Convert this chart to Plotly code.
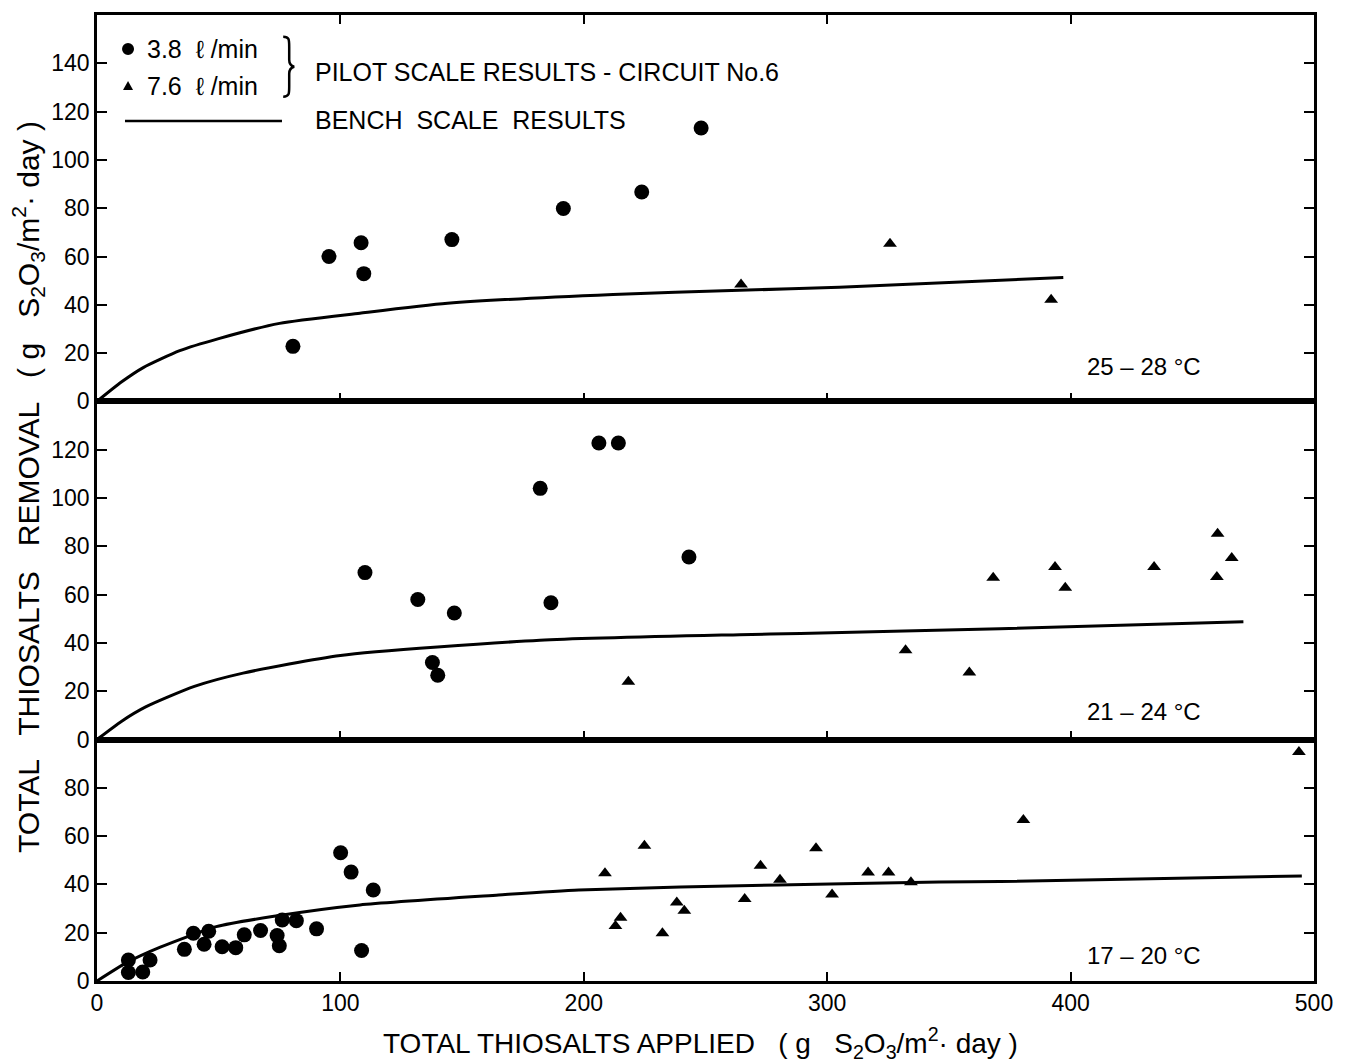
import plotly.graph_objects as go

# ---------------- data ----------------
# 25-28 °C panel
top_c_x = [80.5, 95.3, 108.5, 109.6, 145.8, 191.6, 223.8, 248.2]
top_c_y = [22.8, 60.0, 65.7, 52.9, 67.0, 79.9, 86.7, 113.2]
top_t_x = [264.6, 325.8, 392.0]
top_t_y = [48.4, 65.3, 42.1]
top_curve_x = [0, 10, 19, 34, 50, 75, 108, 144, 212, 264, 305, 397]
top_curve_y = [0, 8, 14, 21, 26, 32.3, 36.5, 40.6, 44.3, 46.0, 47.3, 51.3]

# 21-24 °C panel
mid_c_x = [110.1, 131.8, 146.8, 137.8, 140.0, 182.1, 206.2, 214.2, 186.5, 243.2]
mid_c_y = [69.1, 58.0, 52.4, 31.9, 26.6, 104.0, 122.8, 122.8, 56.6, 75.6]
mid_t_x = [218.3, 332.2, 358.4, 368.2, 393.6, 397.8, 434.3, 460.4, 460.1, 466.2]
mid_t_y = [23.9, 37.0, 27.7, 67.0, 71.4, 62.8, 71.4, 85.2, 67.3, 75.2]
mid_curve_x = [0, 10, 20, 40, 60, 100, 182, 264, 289, 371, 471]
mid_curve_y = [0, 7.5, 13.5, 22, 27.5, 34.8, 41.1, 43.4, 43.9, 45.9, 48.8]

# 17-20 °C panel
bot_c_x = [12.9, 12.9, 18.8, 21.8, 35.9, 39.6, 44.0, 45.9, 51.4, 57.0, 60.5, 67.2,
           74.0, 74.9, 76.1, 81.9, 90.2, 100.1, 104.4, 113.5, 108.7]
bot_c_y = [8.7, 3.5, 3.7, 8.7, 13.1, 19.8, 15.2, 20.6, 14.2, 13.8, 19.1, 20.9,
           18.8, 14.6, 25.3, 25.0, 21.6, 53.1, 45.1, 37.7, 12.6]
bot_t_x = [208.7, 224.9, 215.1, 213.0, 232.3, 238.2, 241.3, 266.1, 272.6, 280.6,
           295.4, 302.0, 316.8, 325.2, 334.4, 380.6, 493.8]
bot_t_y = [44.6, 56.0, 26.2, 22.8, 19.8, 32.5, 29.1, 34.0, 47.7, 41.9,
           55.0, 35.8, 44.9, 44.9, 40.9, 66.7, 94.8]
bot_curve_x = [0, 12, 26, 49, 72, 108, 165, 198, 280, 346, 371, 495]
bot_curve_y = [0, 7.5, 14, 22.5, 26.7, 31.5, 35.6, 37.7, 39.8, 41.0, 41.2, 43.5]

x_ticks = [0, 100, 200, 300, 400, 500]
top_yticks = [0, 20, 40, 60, 80, 100, 120, 140]
mid_yticks = [0, 20, 40, 60, 80, 100, 120]
bot_yticks = [0, 20, 40, 60, 80]

temp_labels = ["25 – 28 °C", "21 – 24 °C", "17 – 20 °C"]

# ---------------- figure ----------------
FONT = "Liberation Sans, Arial, sans-serif"
BLACK = "black"

fig = go.Figure()

panels = [
    ("x3", "y3", top_c_x, top_c_y, top_t_x, top_t_y, top_curve_x, top_curve_y),
    ("x2", "y2", mid_c_x, mid_c_y, mid_t_x, mid_t_y, mid_curve_x, mid_curve_y),
    ("x", "y", bot_c_x, bot_c_y, bot_t_x, bot_t_y, bot_curve_x, bot_curve_y),
]
for xa, ya, cx, cy, tx, ty, lx, ly in panels:
    fig.add_trace(go.Scatter(x=lx, y=ly, mode="lines", xaxis=xa, yaxis=ya,
                             line=dict(color=BLACK, width=3, shape="spline", smoothing=0.6),
                             showlegend=False, hoverinfo="skip"))
    fig.add_trace(go.Scatter(x=cx, y=cy, mode="markers", xaxis=xa, yaxis=ya,
                             marker=dict(symbol="circle", size=15, color=BLACK),
                             showlegend=False))
    fig.add_trace(go.Scatter(x=tx, y=ty, mode="markers", xaxis=xa, yaxis=ya,
                             marker=dict(symbol="triangle-up", size=12, color=BLACK),
                             showlegend=False))

tickfont = dict(family=FONT, size=23, color=BLACK)
common_x = dict(range=[0, 500], tickvals=x_ticks, ticks="inside", ticklen=9, tickwidth=2,
                tickcolor=BLACK, showline=True, linecolor=BLACK, linewidth=2.5,
                showgrid=False, zeroline=False, tickfont=tickfont)
common_y = dict(ticks="inside", ticklen=10, tickwidth=2, tickcolor=BLACK, showline=True,
                linecolor=BLACK, linewidth=2.5, showgrid=False, zeroline=False,
                mirror="ticks", tickfont=tickfont, ticklabelstandoff=0)

fig.update_layout(
    xaxis=dict(domain=[0, 1], anchor="y", mirror=True, showticklabels=True, **common_x),
    xaxis2=dict(domain=[0, 1], anchor="y2", mirror=True, showticklabels=False, matches="x", **common_x),
    xaxis3=dict(domain=[0, 1], anchor="y3", mirror="ticks", showticklabels=False, matches="x", **common_x),
    yaxis=dict(domain=[0, 0.25], anchor="x", range=[0, 100], tickvals=bot_yticks, **common_y),
    yaxis2=dict(domain=[0.25, 0.6], anchor="x2", range=[0, 140], tickvals=mid_yticks, **common_y),
    yaxis3=dict(domain=[0.6, 1.0], anchor="x3", range=[0, 160], tickvals=top_yticks, **common_y),
    width=1345, height=1063,
    margin=dict(l=97, r=31, t=15, b=82),
    paper_bgcolor="white", plot_bgcolor="white",
    font=dict(family=FONT, color=BLACK),
    showlegend=False,
)

ann = []
# temperature labels
for txt, yp in zip(temp_labels, [0.6366, 0.2785, 0.0269]):
    ann.append(dict(text=txt, xref="paper", yref="paper", x=0.8118, y=yp,
                    xanchor="left", yanchor="middle", showarrow=False,
                    font=dict(family=FONT, size=24, color=BLACK)))
# legend texts
leg_font = dict(family=FONT, size=25, color=BLACK)
ann.append(dict(text="3.8  ℓ /min", xref="paper", yref="paper", x=0.0394, y=0.9648,
                xanchor="left", yanchor="middle", showarrow=False, font=leg_font))
ann.append(dict(text="7.6  ℓ /min", xref="paper", yref="paper", x=0.0394, y=0.9265,
                xanchor="left", yanchor="middle", showarrow=False, font=leg_font))
ann.append(dict(text="PILOT SCALE RESULTS - CIRCUIT No.6", xref="paper", yref="paper",
                x=0.1775, y=0.941, xanchor="left", yanchor="middle", showarrow=False, font=leg_font))
ann.append(dict(text="BENCH  SCALE  RESULTS", xref="paper", yref="paper",
                x=0.1775, y=0.8913, xanchor="left", yanchor="middle", showarrow=False, font=leg_font))
# axis titles
ann.append(dict(text="TOTAL THIOSALTS APPLIED   ( g   S<sub>2</sub>O<sub>3</sub>/m<sup>2</sup>· day )",
                xref="paper", yref="paper", x=0.4955, y=-0.0642, xanchor="center", yanchor="middle",
                showarrow=False, font=dict(family=FONT, size=28, color=BLACK)))
ann.append(dict(text="TOTAL   THIOSALTS   REMOVAL   ( g   S<sub>2</sub>O<sub>3</sub>/m<sup>2</sup>· day )",
                xref="paper", yref="paper", x=-0.0567, y=0.5114, xanchor="center", yanchor="middle",
                textangle=-90, showarrow=False, font=dict(family=FONT, size=30, color=BLACK)))
fig.update_layout(annotations=ann)

shapes = []
# legend key: circle
shapes.append(dict(type="circle", xref="paper", yref="paper", xsizemode="pixel", ysizemode="pixel",
                   xanchor=0.0255, yanchor=0.9648, x0=-6, x1=6, y0=-6, y1=6,
                   fillcolor=BLACK, line=dict(color=BLACK, width=0)))
# legend key: triangle
shapes.append(dict(type="path", xref="paper", yref="paper", xsizemode="pixel", ysizemode="pixel",
                   xanchor=0.0255, yanchor=0.9265, path="M -5,-4 L 5,-4 L 0,5 Z",
                   fillcolor=BLACK, line=dict(color=BLACK, width=0)))
# brace
shapes.append(dict(type="path", xref="paper", yref="paper", xsizemode="pixel", ysizemode="pixel",
                   xanchor=0.1530, yanchor=0.9465,
                   path="M 0,30 C 6,30 6,27 6,20 L 6,7 C 6,3 7,1 11,0 C 7,-1 6,-3 6,-7 L 6,-20 C 6,-27 6,-30 0,-30",
                   line=dict(color=BLACK, width=2.5)))
# bench line key
shapes.append(dict(type="line", xref="paper", yref="paper", x0=0.023, x1=0.152, y0=0.8903, y1=0.8903,
                   line=dict(color=BLACK, width=2.5)))
fig.update_layout(shapes=shapes)

fig.write_html("out.html")
